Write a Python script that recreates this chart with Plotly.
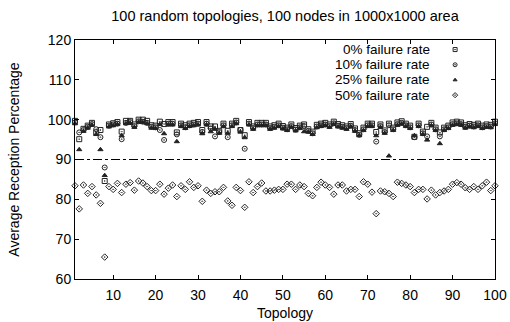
import plotly.graph_objects as go

topology = list(range(1, 101))

fail_0 = [99.7, 95.1, 97.7, 98.5, 99.2, 96.8, 97.4, 84.6, 98.8, 99.1,
          99.4, 97.0, 99.7, 99.7, 98.8, 100.0, 100.0, 99.7, 98.6, 98.5,
          99.5, 98.9, 99.4, 99.4, 96.8, 99.0, 98.6, 99.0, 99.2, 99.4,
          97.4, 99.4, 98.3, 98.3, 97.2, 99.0, 97.2, 99.0, 99.7, 97.4,
          96.1, 99.4, 98.3, 99.2, 99.2, 99.2, 98.3, 98.6, 99.0, 98.4,
          98.0, 98.8, 97.9, 98.5, 98.8, 97.6, 97.0, 98.7, 99.0, 99.2,
          98.8, 99.5, 98.9, 98.6, 98.3, 98.9, 97.8, 96.6, 98.0, 99.0,
          99.0, 96.9, 98.8, 97.3, 99.0, 98.0, 99.3, 99.6, 99.0, 98.5,
          95.7, 99.0, 97.0, 98.2, 99.2, 98.0, 96.8, 98.0, 98.5, 99.3,
          99.5, 99.3, 98.6, 98.9, 98.7, 99.0, 98.5, 98.8, 98.7, 99.5]

fail_10 = [99.3, 96.8, 97.4, 98.2, 98.9, 97.6, 95.6, 88.0, 98.5, 98.8,
           99.0, 95.1, 99.2, 99.4, 98.4, 99.6, 99.5, 99.2, 98.2, 98.1,
           97.4, 94.9, 99.0, 99.0, 96.3, 98.6, 98.1, 98.6, 98.8, 99.0,
           96.9, 99.0, 97.8, 95.8, 96.9, 98.6, 95.6, 98.6, 99.3, 97.4,
           92.7, 99.0, 97.9, 98.8, 98.8, 98.8, 97.9, 98.2, 98.6, 98.0,
           97.6, 98.4, 97.5, 98.1, 98.4, 97.2, 96.6, 98.3, 98.6, 98.8,
           98.4, 99.1, 98.5, 98.2, 97.9, 98.5, 97.4, 96.2, 97.6, 98.6,
           98.6, 94.5, 98.4, 96.9, 98.6, 97.6, 98.9, 99.2, 98.6, 98.1,
           95.6, 98.6, 96.6, 95.8, 98.8, 97.6, 95.8, 97.6, 98.1, 98.9,
           99.1, 98.9, 98.2, 98.5, 98.3, 98.6, 98.1, 98.4, 98.3, 99.1]

fail_25 = [99.0, 92.5, 97.1, 97.9, 98.6, 96.3, 92.5, 86.0, 98.2, 98.5,
           98.8, 96.0, 99.0, 99.1, 98.1, 99.4, 99.3, 99.0, 97.9, 97.8,
           98.8, 96.5, 98.7, 98.7, 94.5, 98.3, 97.8, 98.3, 98.5, 98.7,
           96.5, 98.7, 97.0, 97.6, 96.6, 98.3, 96.6, 98.3, 99.0, 96.9,
           95.5, 98.7, 97.6, 98.5, 98.5, 98.5, 97.6, 97.9, 98.3, 97.7,
           97.3, 98.1, 97.2, 97.8, 97.0, 96.9, 96.3, 98.0, 98.3, 98.5,
           98.1, 98.8, 98.2, 97.9, 97.6, 98.2, 97.1, 96.0, 97.3, 98.3,
           98.3, 96.0, 98.1, 96.6, 90.9, 97.3, 98.6, 98.9, 98.3, 97.8,
           96.0, 98.3, 96.3, 94.9, 98.5, 97.3, 94.0, 97.3, 97.8, 98.6,
           98.8, 98.6, 97.9, 98.2, 98.0, 98.3, 97.8, 98.1, 98.0, 98.8]

fail_50 = [83.4, 77.6, 83.6, 81.5, 83.2, 81.1, 79.0, 65.5, 83.2, 82.5,
           84.0, 81.7, 83.8, 84.2, 82.3, 84.6, 84.1, 83.2, 82.2, 82.2,
           83.8, 81.3, 82.8, 83.6, 80.7, 83.4, 82.5, 84.4, 83.0, 83.4,
           79.5, 82.3, 81.5, 81.9, 81.9, 83.0, 79.6, 78.5, 83.0, 82.2,
           78.0, 84.4, 81.7, 83.2, 84.1, 82.1, 82.1, 82.3, 82.5, 82.5,
           83.8, 83.8, 82.5, 83.6, 83.2, 81.5, 80.9, 83.0, 84.3, 83.6,
           83.0, 81.3, 83.6, 83.6, 82.1, 82.5, 82.5, 80.7, 84.4, 83.8,
           81.8, 76.4, 82.1, 81.9, 81.5, 80.7, 84.3, 84.0, 83.6, 83.2,
           81.7, 82.5, 82.5, 80.1, 82.3, 81.1, 81.7, 82.1, 82.5, 83.8,
           84.2, 83.8, 82.9, 82.5, 83.2, 82.5, 83.4, 84.3, 82.2, 83.4]

threshold = 90
series_names = ["0% failure rate", "10% failure rate", "25% failure rate", "50% failure rate"]
x_ticks = [10, 20, 30, 40, 50, 60, 70, 80, 90, 100]
y_ticks = [60, 70, 80, 90, 100, 110, 120]

symbols = ["square-open-dot", "circle-open-dot", "triangle-up", "diamond-open-dot"]
sizes = [5, 5, 4.5, 5]
all_series = [fail_0, fail_10, fail_25, fail_50]

FONT = "Liberation Sans, Arial, sans-serif"
FS = 14
INK = "#222222"
fig = go.Figure()

for name, vals, sym, sz in zip(series_names, all_series, symbols, sizes):
    fig.add_trace(go.Scatter(
        x=topology, y=vals, mode="markers", name=name, showlegend=False,
        marker=dict(symbol=sym, size=sz, color=INK,
                    line=dict(color=INK, width=1)),
        cliponaxis=False,
    ))

# legend drawn gnuplot-style: right-aligned text, sample symbol at right
legend_top = 0.96
legend_step = 0.0636
for i, (name, sym, sz) in enumerate(zip(series_names, symbols, sizes)):
    yy = legend_top - i * legend_step
    fig.add_annotation(xref="paper", yref="paper", x=0.842, y=yy,
                       text=name, showarrow=False, xanchor="right", yanchor="middle",
                       xshift=2, borderpad=0,
                       font=dict(size=13.5, color="black", family=FONT))
    fig.add_trace(go.Scatter(
        x=[0.905], y=[yy], xaxis="x2", yaxis="y2", mode="markers",
        showlegend=False, hoverinfo="skip",
        marker=dict(symbol=sym, size=sz - 1, color=INK,
                    line=dict(color=INK, width=1)),
    ))

fig.add_shape(type="line", xref="paper", x0=0, x1=1, yref="y",
              y0=threshold, y1=threshold,
              line=dict(color="black", width=1, dash="dashdot"))

axis_common = dict(showgrid=False, zeroline=False, showline=True, linecolor="black",
                   linewidth=1, mirror="ticks", ticks="inside", ticklen=4,
                   tickcolor="black", automargin=False,
                   tickfont=dict(size=FS, color="black", family=FONT))

fig.update_layout(
    width=510, height=322,
    margin=dict(l=75, r=15, t=40, b=43, autoexpand=False),
    paper_bgcolor="white", plot_bgcolor="white",
    font=dict(family=FONT, size=FS, color="black"),
    title=dict(text="100 random topologies, 100 nodes in 1000x1000 area",
               x=0.5, xanchor="center", xref="paper", y=0.952, yanchor="middle",
               font=dict(size=14.5, family=FONT, color="black")),
    xaxis=dict(range=[1, 100], tickvals=x_ticks, ticklabelstandoff=3,
               title=dict(text="Topology", standoff=6, font=dict(size=FS)),
               **axis_common),
    yaxis=dict(range=[60, 120], tickvals=y_ticks,
               title=dict(text="Average Reception Percentage", standoff=24, font=dict(size=FS)),
               **axis_common),
    xaxis2=dict(range=[0, 1], overlaying="x", visible=False),
    yaxis2=dict(range=[0, 1], overlaying="y", visible=False),
    showlegend=False,
)

fig.write_html("out.html", config={"displayModeBar": False},
               post_script="document.body.style.margin='0';document.body.style.padding='0';")
